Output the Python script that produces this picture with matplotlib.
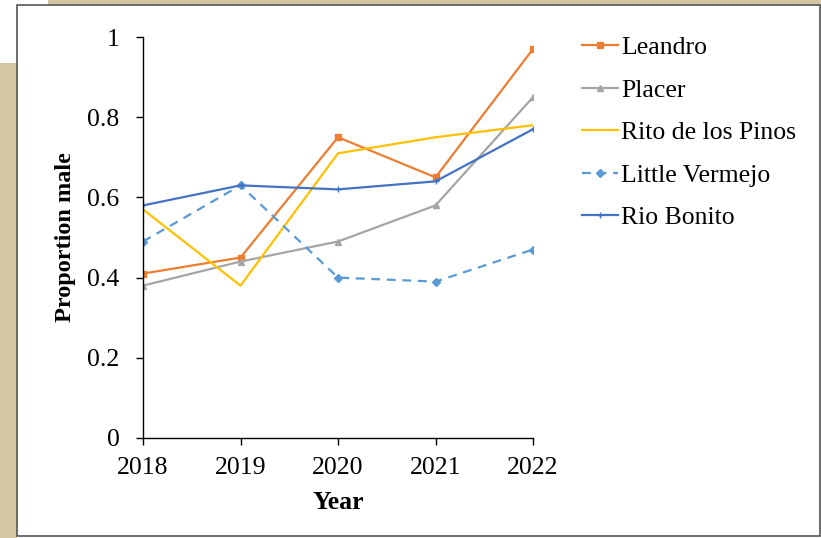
import matplotlib
matplotlib.use("Agg")
import matplotlib.pyplot as plt
from matplotlib.patches import Rectangle
from matplotlib.ticker import FuncFormatter

years = [2018, 2019, 2020, 2021, 2022]
leandro = [0.41, 0.45, 0.75, 0.65, 0.97]
placer = [0.38, 0.44, 0.49, 0.58, 0.85]
rito = [0.57, 0.38, 0.71, 0.75, 0.78]
little_vermejo = [0.49, 0.63, 0.40, 0.39, 0.47]
rio_bonito = [0.58, 0.63, 0.62, 0.64, 0.77]

plt.rcParams['font.family'] = ['Liberation Serif', 'DejaVu Serif']

W, H = 821, 538
fig = plt.figure(figsize=(W / 100, H / 100), dpi=100)
fig.patch.set_facecolor('white')

def px_rect(x0, y0, x1, y1, **kw):
    # rectangle in pixel coords (top-left origin)
    fig.patches.append(Rectangle((x0 / W, 1 - y1 / H), (x1 - x0) / W, (y1 - y0) / H,
                                 transform=fig.transFigure, zorder=-10, **kw))

tan = '#d3c6a0'
px_rect(48, 0, W, 5, facecolor=tan, edgecolor='none')
px_rect(0, 63, 17, H, facecolor=tan, edgecolor='none')
px_rect(17, 5, 820, 536, facecolor='white', edgecolor='#555555', linewidth=1.2)

ax = fig.add_axes([143 / W, 1 - 438 / H, (533 - 143) / W, (438 - 37) / H])
ax.set_facecolor('none')

ax.plot(years, leandro, color='#ED7D31', lw=1.6, marker='s', ms=4.5, label='Leandro')
ax.plot(years, placer, color='#A5A5A5', lw=1.6, marker='^', ms=4.5, label='Placer')
ax.plot(years, rito, color='#FFC000', lw=1.6, label='Rito de los Pinos')
ax.plot(years, little_vermejo, color='#5B9BD5', lw=1.6, ls=(0, (4, 3)), marker='D',
        ms=4, label='Little Vermejo')
ax.plot(years, rio_bonito, color='#4472C4', lw=1.6, marker='+', ms=5, label='Rio Bonito')

fs = 18.5
ax.set_xlim(2018, 2022)
ax.set_ylim(0, 1)
ax.set_xticks(years)
ax.set_yticks([0, 0.2, 0.4, 0.6, 0.8, 1.0])
ax.yaxis.set_major_formatter(FuncFormatter(lambda v, p: '%g' % round(v, 1)))
for s in ['top', 'right']:
    ax.spines[s].set_visible(False)
for s in ['left', 'bottom']:
    ax.spines[s].set_linewidth(1.0)
ax.tick_params(direction='out', length=5, width=1.0, labelsize=fs)
ax.tick_params(axis='y', pad=12)
ax.tick_params(axis='x', pad=9)

ax.set_xlabel('Year', fontsize=fs, fontweight='bold', labelpad=8)
ax.set_ylabel('Proportion male', fontsize=17.5, fontweight='bold', labelpad=8)

ax.legend(loc='upper left', bbox_to_anchor=(572 / W, 1 - 26 / H),
          bbox_transform=fig.transFigure, frameon=False, fontsize=fs,
          handlelength=1.4, handletextpad=0.1, labelspacing=0.76, borderaxespad=0)

fig.savefig('out.png', dpi=100)
